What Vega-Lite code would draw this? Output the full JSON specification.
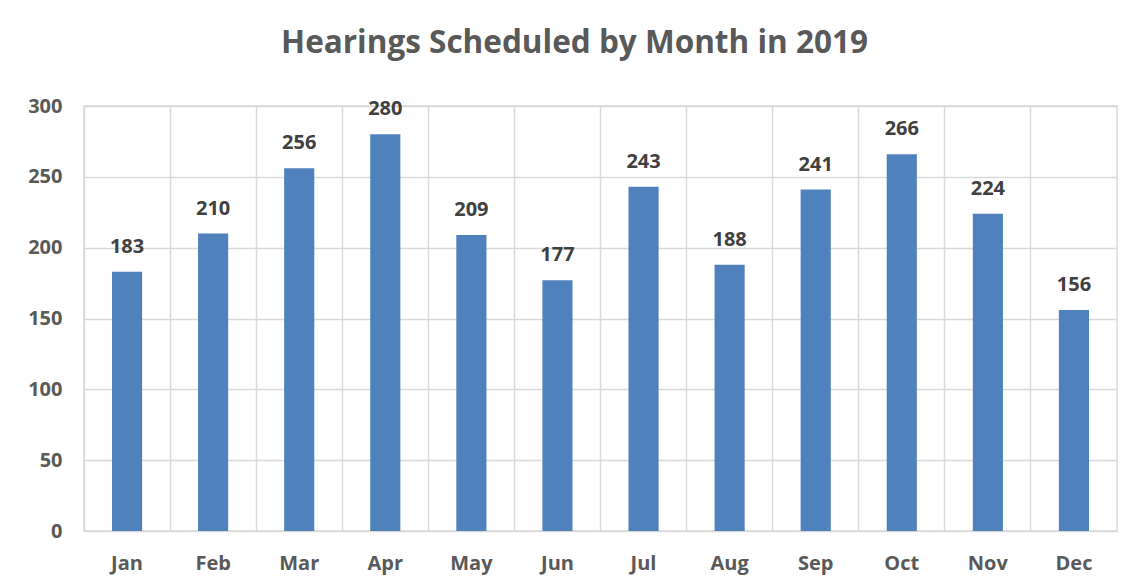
{
  "$schema": "https://vega.github.io/schema/vega-lite/v6.json",
  "autosize": {"type": "none"},
  "padding": {"left": 84, "top": 106, "right": 23, "bottom": 57},
  "width": 1033,
  "height": 425,
  "background": "white",
  "title": {
    "text": "Hearings Scheduled by Month in 2019",
    "font": "Open Sans",
    "fontSize": 31.5,
    "fontWeight": "bold",
    "color": "#595959",
    "anchor": "middle",
    "frame": "group",
    "baseline": "alphabetic",
    "offset": 12,
    "dx": -26
  },
  "data": {
    "values": [
      {"month": "Jan", "count": 183},
      {"month": "Feb", "count": 210},
      {"month": "Mar", "count": 256},
      {"month": "Apr", "count": 280},
      {"month": "May", "count": 209},
      {"month": "Jun", "count": 177},
      {"month": "Jul", "count": 243},
      {"month": "Aug", "count": 188},
      {"month": "Sep", "count": 241},
      {"month": "Oct", "count": 266},
      {"month": "Nov", "count": 224},
      {"month": "Dec", "count": 156}
    ]
  },
  "config": {
    "view": {"stroke": "#D9D9D9", "strokeWidth": 1.5},
    "axis": {
      "labelFont": "Open Sans",
      "labelFontSize": 20,
      "labelFontWeight": "bold",
      "labelColor": "#595959",
      "gridColor": "#D9D9D9",
      "gridWidth": 1.5,
      "domain": false,
      "ticks": false,
      "title": null
    }
  },
  "encoding": {
    "x": {
      "field": "month",
      "type": "nominal",
      "sort": null,
      "scale": {"paddingInner": 0, "paddingOuter": 0},
      "axis": {"labelAngle": 0, "grid": true, "bandPosition": 0, "labelPadding": 22, "labelBaseline": "top"}
    },
    "y": {
      "field": "count",
      "type": "quantitative",
      "scale": {"domain": [0, 300]},
      "axis": {"values": [0, 50, 100, 150, 200, 250, 300], "grid": true, "labelPadding": 22}
    }
  },
  "layer": [
    {
      "mark": {"type": "bar", "color": "#4F81BD", "width": {"band": 0.35}}
    },
    {
      "mark": {
        "type": "text",
        "font": "Open Sans",
        "fontSize": 20,
        "fontWeight": "bold",
        "color": "#404040",
        "baseline": "alphabetic",
        "dy": -19
      },
      "encoding": {"text": {"field": "count", "type": "quantitative"}}
    }
  ]
}
